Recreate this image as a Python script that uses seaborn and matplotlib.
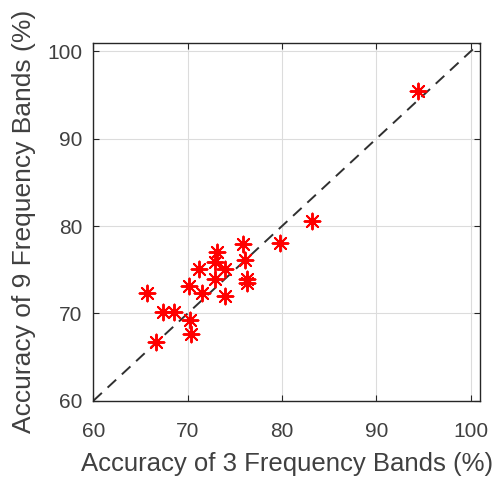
import matplotlib
matplotlib.use("Agg")
import matplotlib.pyplot as plt
import numpy as np
import pandas as pd
import seaborn as sns

# accuracy per subject
acc_3_bands = [94.45, 83.2, 79.8, 75.9, 76.1, 73.1, 72.9, 71.2, 74.0, 72.9, 76.3,
               76.3, 70.1, 71.5, 74.0, 65.65, 67.35, 68.55, 70.25, 70.35, 66.65]
acc_9_bands = [95.5, 80.6, 78.1, 77.9, 76.1, 77.0, 75.9, 75.1, 75.1, 74.0, 73.9,
               73.5, 73.2, 72.4, 72.0, 72.3, 70.15, 70.15, 69.2, 67.6, 66.7]
ticks = [60, 70, 80, 90, 100]
x_label = "Accuracy of 3 Frequency Bands (%)"
y_label = "Accuracy of 9 Frequency Bands (%)"

sns.set_theme(style="white")
plt.rcParams["font.family"] = ["Liberation Sans", "DejaVu Sans"]

df = pd.DataFrame({"b3": acc_3_bands, "b9": acc_9_bands})

fig = plt.figure(figsize=(4.99, 4.80), dpi=100)
ax = fig.add_axes([0.187, 0.165, 0.775, 0.746])

ax.axline((60, 60), slope=1, color="#303030", lw=1.4, dashes=(6, 4), zorder=2)
sns.scatterplot(data=df, x="b3", y="b9", ax=ax, marker=(8, 2, 0), s=130,
                color="red", linewidth=1.4, zorder=3)

ax.set_xlim(60, 101)
ax.set_ylim(60, 101)
ax.set_xticks(ticks)
ax.set_yticks(ticks)
ax.grid(True, color="#dcdcdc", lw=0.8)
ax.set_axisbelow(True)
for sp in ax.spines.values():
    sp.set_color("#262626")
    sp.set_linewidth(1.0)
ax.tick_params(direction="in", length=4, width=0.8, colors="#262626",
               labelsize=15, labelcolor="#404040",
               top=True, right=True, bottom=True, left=True)
ax.tick_params(axis="x", pad=15)
ax.tick_params(axis="y", pad=8)
ax.set_xlabel(x_label, fontsize=18.5, color="#404040", labelpad=8)
ax.set_ylabel(y_label, fontsize=19, color="#404040", labelpad=8)

fig.savefig("out.png", dpi=100)
